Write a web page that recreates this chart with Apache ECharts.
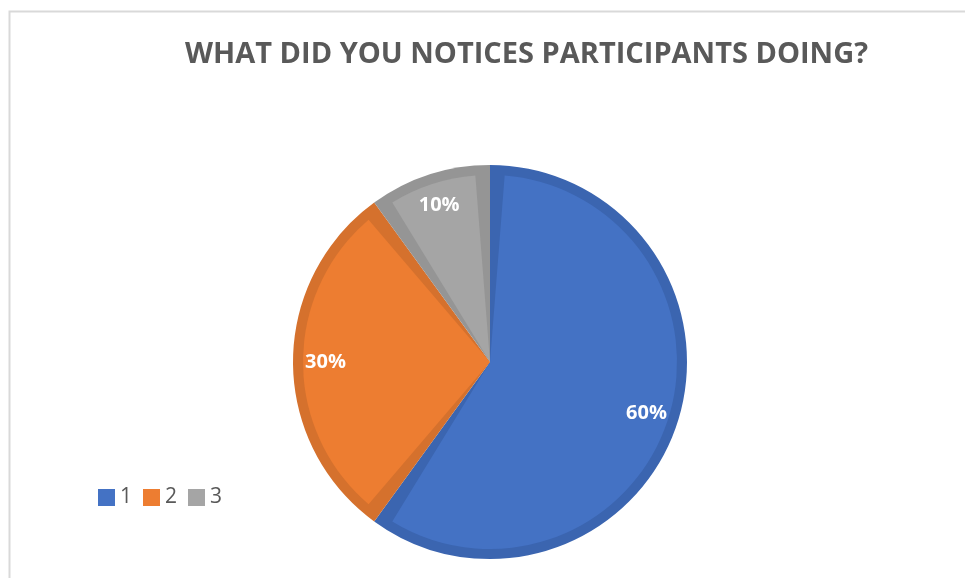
<!DOCTYPE html>
<html>
<head>
<meta charset="utf-8">
<title>What did you notices participants doing?</title>
<script src="https://cdn.jsdelivr.net/npm/echarts@6/dist/echarts.min.js"></script>
<style>
  html, body { margin: 0; padding: 0; background: #ffffff; }
  #chart { width: 965px; height: 578px; }
</style>
</head>
<body>
<div id="chart"></div>
<script>
// Survey answers and their shares (percent)
const categories = ['1', '2', '3'];
const shares = [60, 30, 10];

// Slice fills and their darker outline tones
const fillColors = ['#4472C4', '#ED7D31', '#A5A5A5'];
const edgeColors = ['#3B65B0', '#D5712D', '#959595'];

const titleText = 'WHAT DID YOU NOTICES PARTICIPANTS DOING?';

const center = [490, 362];
const outerR = 197;
const band = 10;

function slices(colors) {
  return categories.map((name, i) => ({
    name: name,
    value: shares[i],
    itemStyle: { color: colors[i] }
  }));
}

const chart = echarts.init(document.getElementById('chart'), null, { renderer: 'canvas' });

chart.setOption({
  animation: false,
  backgroundColor: '#ffffff',
  title: {
    text: titleText,
    left: 180,
    top: 35,
    textStyle: {
      fontFamily: '"Open Sans", sans-serif',
      fontWeight: 'bold',
      fontSize: 29,
      color: '#595959'
    }
  },
  legend: {
    data: categories.map((name, i) => ({
      name: name,
      icon: 'rect',
      itemStyle: { color: fillColors[i] }
    })),
    left: 93,
    top: 482,
    itemWidth: 17,
    itemHeight: 17,
    itemGap: 11,
    selectedMode: false,
    textStyle: {
      fontFamily: '"Open Sans", sans-serif',
      fontSize: 21,
      color: '#595959'
    }
  },
  graphic: [
    {
      type: 'polyline',
      silent: true,
      shape: { points: [[9.5, 578], [9.5, 11.5], [965, 11.5]] },
      style: { fill: null, stroke: '#d9d9d9', lineWidth: 2 }
    }
  ],
  series: [
    {
      // darker outline layer
      type: 'pie',
      center: center,
      radius: [0, outerR],
      startAngle: 90,
      clockwise: true,
      silent: true,
      label: { show: false },
      labelLine: { show: false },
      data: slices(edgeColors)
    },
    {
      // main fill layer, inset from the outline
      type: 'pie',
      center: center,
      radius: [0, outerR - band],
      startAngle: 90,
      clockwise: true,
      padAngle: 9,
      silent: true,
      label: { show: false },
      labelLine: { show: false },
      data: slices(fillColors)
    },
    {
      // percentage labels
      type: 'pie',
      center: center,
      radius: [126, outerR],
      startAngle: 90,
      clockwise: true,
      silent: true,
      itemStyle: { color: 'rgba(0,0,0,0)' },
      legendHoverLink: false,
      label: {
        show: true,
        position: 'inside',
        formatter: p => p.value + '%',
        fontFamily: '"Open Sans", sans-serif',
        fontWeight: 'bold',
        fontSize: 20,
        color: '#ffffff'
      },
      labelLine: { show: false },
      data: categories.map((name, i) => ({ name: name, value: shares[i] }))
    }
  ]
});
</script>
</body>
</html>
